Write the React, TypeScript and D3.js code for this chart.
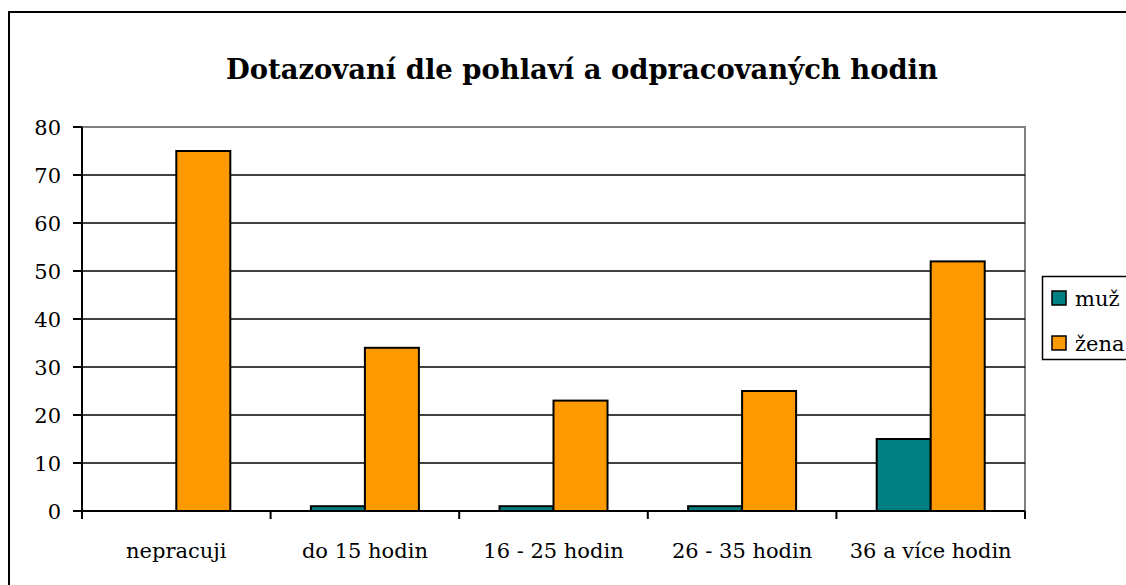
import React, { useRef, useEffect } from 'react';
import * as d3 from 'd3';

const categories = ['nepracuji', 'do 15 hodin', '16 - 25 hodin', '26 - 35 hodin', '36 a více hodin'];
const seriesNames = ['muž', 'žena'];
const muz = [0, 1, 1, 1, 15];
const zena = [75, 34, 23, 25, 52];
const yTicks = [0, 10, 20, 30, 40, 50, 60, 70, 80];
const colors = ['#008080', '#FF9900'];

const App = () => {
  const svgRef = useRef<SVGSVGElement>(null);

  useEffect(() => {
    const svg = d3.select(svgRef.current);
    svg.selectAll('*').remove();

    const W = 1126, H = 585;
    const left = 82, right = 1025, top = 127, bottom = 511;
    const font = '"DejaVu Serif", serif';
    const fs = 21;

    // outer frame (only top and left edges fall inside the picture)
    svg.append('rect').attr('width', W).attr('height', H).attr('fill', '#fff');
    svg.append('path')
      .attr('d', `M${W},12 H9 V${H}`)
      .attr('fill', 'none').attr('stroke', '#000').attr('stroke-width', 2);

    svg.append('text')
      .attr('x', 582).attr('y', 79)
      .attr('text-anchor', 'middle')
      .attr('font-family', font).attr('font-weight', 'bold').attr('font-size', 27.4)
      .text('Dotazovaní dle pohlaví a odpracovaných hodin');

    const x = d3.scaleBand().domain(categories).range([left, right]).padding(0);
    const xs = d3.scaleBand().domain(seriesNames).range([0, x.bandwidth()]).paddingInner(0).paddingOuter(0.746);
    const y = d3.scaleLinear().domain([0, 80]).range([bottom, top]);

    // plot area border
    svg.append('rect')
      .attr('x', left).attr('y', top).attr('width', right - left).attr('height', bottom - top)
      .attr('fill', 'none').attr('stroke', '#808080').attr('stroke-width', 2);

    // gridlines
    svg.append('g').selectAll('line')
      .data(yTicks.filter(t => t > 0 && t < 80))
      .enter().append('line')
      .attr('x1', left).attr('x2', right)
      .attr('y1', d => y(d)).attr('y2', d => y(d))
      .attr('stroke', '#000').attr('stroke-width', 1.5);

    const data = [muz, zena];
    data.forEach((vals, si) => {
      svg.append('g').selectAll('rect')
        .data(vals)
        .enter().append('rect')
        .attr('x', (d, i) => (x(categories[i]) as number) + (xs(seriesNames[si]) as number))
        .attr('y', d => y(d))
        .attr('width', xs.bandwidth())
        .attr('height', d => bottom - y(d))
        .attr('fill', colors[si])
        .attr('stroke', '#000').attr('stroke-width', 2);
    });

    // y axis
    svg.append('line')
      .attr('x1', left).attr('x2', left).attr('y1', top).attr('y2', bottom)
      .attr('stroke', '#000').attr('stroke-width', 2);
    svg.append('g').selectAll('line')
      .data(yTicks).enter().append('line')
      .attr('x1', left - 9).attr('x2', left)
      .attr('y1', d => y(d)).attr('y2', d => y(d))
      .attr('stroke', '#000').attr('stroke-width', 2);
    svg.append('g').selectAll('text')
      .data(yTicks).enter().append('text')
      .attr('x', 61).attr('y', d => y(d))
      .attr('dy', '0.36em')
      .attr('text-anchor', 'end')
      .attr('font-family', font).attr('font-size', fs)
      .text(d => d);

    // x axis
    svg.append('line')
      .attr('x1', left).attr('x2', right).attr('y1', bottom).attr('y2', bottom)
      .attr('stroke', '#000').attr('stroke-width', 2);
    const bounds = categories.map(c => x(c) as number).concat([right]);
    svg.append('g').selectAll('line')
      .data(bounds).enter().append('line')
      .attr('x1', d => d).attr('x2', d => d)
      .attr('y1', bottom).attr('y2', bottom + 8)
      .attr('stroke', '#000').attr('stroke-width', 2);
    svg.append('g').selectAll('text')
      .data(categories).enter().append('text')
      .attr('x', d => (x(d) as number) + x.bandwidth() / 2)
      .attr('y', 558)
      .attr('text-anchor', 'middle')
      .attr('font-family', font).attr('font-size', fs)
      .text(d => d);

    // legend (cut off by the right edge)
    svg.append('path')
      .attr('d', `M${W},276.5 H1042.5 V359.5 H${W}`)
      .attr('fill', '#fff').attr('stroke', '#000').attr('stroke-width', 1.5);
    const lg = svg.append('g').selectAll('g')
      .data(seriesNames).enter().append('g')
      .attr('transform', (d, i) => `translate(1052, ${291 + i * 45})`);
    lg.append('rect')
      .attr('width', 14).attr('height', 14)
      .attr('fill', (d, i) => colors[i])
      .attr('stroke', '#000').attr('stroke-width', 1.5);
    lg.append('text')
      .attr('x', 23).attr('y', 7).attr('dy', '0.36em')
      .attr('font-family', font).attr('font-size', fs)
      .text(d => d);
  }, []);

  return (
    <div style={{ position: 'absolute', left: 0, top: 0, width: 1126, height: 585, overflow: 'hidden' }}>
      <svg ref={svgRef} width={1126} height={585} style={{ display: 'block' }}></svg>
    </div>
  );
};

export default App;
